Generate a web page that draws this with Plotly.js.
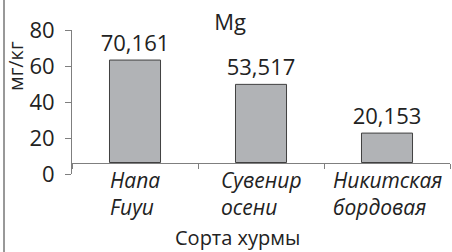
<!DOCTYPE html>
<html>
<head>
<meta charset="utf-8">
<script src="https://cdn.plot.ly/plotly-3.0.1.min.js"></script>
<style>html,body{margin:0;padding:0;background:#fff}#chart{width:452px;height:252px}</style>
</head>
<body>
<div id="chart"></div>
<script>
var categories = ["Hana<br>Fuyu", "Сувенир<br>осени", "Никитская<br>бордовая"];
var mgValues = [70.161, 53.517, 20.153];
var mgLabels = ["70,161", "53,517", "20,153"];
var yTickValues = [0, 20, 40, 60, 80];
var chartTitle = "Mg";
var yTitle = "мг/кг";
var xTitle = "Сорта хурмы";

var FONT = "Open Sans, Noto Sans, sans-serif";
var TXT = "#222";

var catIdx = categories.map(function(_, i){ return i; });

var axisHolder = {
  type: "scatter", mode: "markers", x: [], y: [],
  xaxis: "x", yaxis: "y", hoverinfo: "none", showlegend: false
};

var trace = {
  type: "bar",
  x: catIdx,
  y: mgValues,
  xaxis: "x",
  yaxis: "y2",
  text: mgLabels,
  textposition: "outside",
  constraintext: "none",
  cliponaxis: false,
  textfont: {family: FONT, size: 22, color: TXT},
  marker: {color: "#b1b3b6", line: {color: "#404040", width: 1}},
  hoverinfo: "none"
};

var annotations = categories.map(function(c, i){
  return {
    x: i, xref: "x", y: 0, yref: "paper",
    yshift: 10, yanchor: "top",
    xanchor: "center", align: "left",
    text: "<i>" + c + "</i>", showarrow: false,
    font: {family: FONT, size: 21, color: TXT}
  };
});
annotations.push({
  x: (15 - 72) / 378, xref: "paper", xanchor: "center",
  y: (174 - 66) / 144, yref: "paper", yanchor: "middle",
  text: yTitle, showarrow: false, textangle: -90,
  font: {family: FONT, size: 20, color: TXT}
});
annotations.push({
  x: (237 - 72) / 378, xref: "paper", xanchor: "center",
  y: -(237.5 - 174) / 144, yref: "paper", yanchor: "middle",
  text: xTitle, showarrow: false,
  font: {family: FONT, size: 20, color: TXT}
});

var layout = {
  width: 452, height: 252,
  margin: {l: 72, r: 2, t: 30, b: 78, pad: 0},
  paper_bgcolor: "#fff", plot_bgcolor: "rgba(0,0,0,0)",
  showlegend: false,
  bargap: 0.595,
  title: {
    text: chartTitle, font: {family: FONT, size: 22, color: TXT},
    x: 230 / 452, xref: "container", xanchor: "center",
    y: 1 - 22 / 252, yref: "container", yanchor: "middle"
  },
  xaxis: {
    type: "linear", range: [-0.5, 2.5],
    tickvals: [-0.5, 0.5, 1.5, 2.5], ticks: "outside", ticklen: 5, tickwidth: 1,
    tickcolor: "#7f7f7f", showticklabels: false,
    showline: true, linecolor: "#7f7f7f", linewidth: 1,
    showgrid: false, zeroline: false,
    anchor: "free", position: 11.5 / 144
  },
  yaxis: {
    range: [0, 80], tickvals: yTickValues,
    ticks: "outside", ticklen: 6, tickwidth: 1, tickcolor: "#7f7f7f",
    showline: true, linecolor: "#7f7f7f", linewidth: 1,
    showgrid: false, zeroline: false,
    ticklabelstandoff: 6,
    tickfont: {family: FONT, size: 22, color: TXT}
  },
  yaxis2: {
    overlaying: "y", range: [-11.5 / 1.46, 132.5 / 1.46],
    visible: false, showgrid: false, zeroline: false
  },
  shapes: [{
    type: "line", xref: "paper", yref: "paper",
    x0: (4 - 72) / 378, x1: (4 - 72) / 378, y0: -78 / 144, y1: 1 + 30 / 144,
    line: {color: "#333", width: 1}
  }],
  annotations: annotations
};

Plotly.newPlot("chart", [axisHolder, trace], layout, {displayModeBar: false, staticPlot: true});
</script>
</body>
</html>
